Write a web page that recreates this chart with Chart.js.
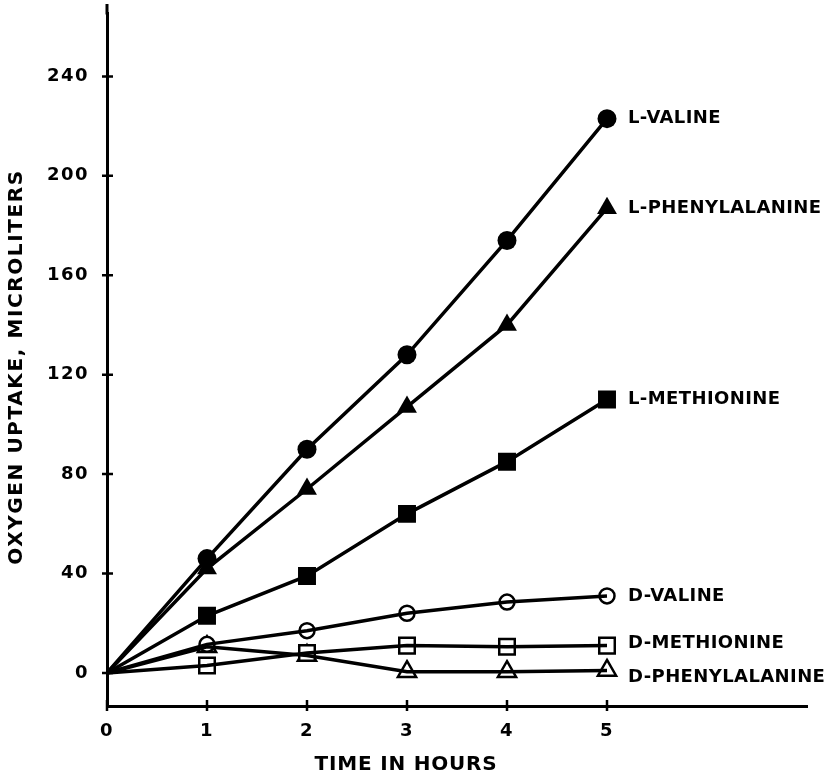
<!DOCTYPE html>
<html>
<head>
<meta charset="utf-8">
<script src="https://cdn.jsdelivr.net/npm/chart.js@4.4.1/dist/chart.umd.min.js"></script>
<style>
  html, body { margin: 0; background: #fff; }
  #wrap { width: 837px; height: 780px; }
</style>
</head>
<body>
<div id="wrap"><canvas id="chart"></canvas></div>
<script>
// Data: oxygen uptake (microliters) against time (hours)
const hours = [0, 1, 2, 3, 4, 5];
const xTicks = [0, 1, 2, 3, 4, 5];
const yTicks = [0, 40, 80, 120, 160, 200, 240];
const seriesNames = ['L-VALINE', 'L-PHENYLALANINE', 'L-METHIONINE', 'D-VALINE', 'D-METHIONINE', 'D-PHENYLALANINE'];
const lValine = [0, 46, 90, 128, 174, 223];
const lPhenylalanine = [0, 42, 74, 107, 140, 187];
const lMethionine = [0, 23, 39, 64, 85, 110];
const dValine = [0, 11.5, 17, 24, 28.5, 31];
const dMethionine = [0, 3, 8, 11, 10.5, 11];
const dPhenylalanine = [0, 10.5, 7, 0.5, 0.5, 1];
const seriesValues = [lValine, lPhenylalanine, lMethionine, dValine, dMethionine, dPhenylalanine];

// marker look per series (same order as seriesNames)
const markers = [
  { style: 'circle',   filled: true,  r: 9.5 },
  { style: 'triangle', filled: true,  r: 11.5 },
  { style: 'rect',     filled: true,  r: 12.7 },
  { style: 'circle',   filled: false, r: 7.5 },
  { style: 'rect',     filled: false, r: 11 },
  { style: 'triangle', filled: false, r: 10.5 }
];
// small vertical nudges for the end labels, in px
const labelNudge = { 'D-PHENYLALANINE': 7, 'D-METHIONINE': -2 };
const AXIS_TOP = 4;   // the drawn y axis runs up to here

const INK = '#000';
const FONT = '"DejaVu Sans", sans-serif';
const points = vals => hours.map((h, i) => ({ x: h, y: vals[i] }));
const skipFirst = r => hours.map((h, i) => i === 0 ? 0 : r);

const datasets = [];
seriesValues.forEach((vals, i) => {
  datasets.push({
    label: seriesNames[i], data: points(vals),
    borderColor: INK, borderWidth: 3.5, pointRadius: 0, tension: 0, fill: false
  });
});
seriesValues.forEach((vals, i) => {
  const m = markers[i];
  datasets.push({
    label: seriesNames[i] + ' marker', data: points(vals), showLine: false,
    pointStyle: m.style, pointRadius: skipFirst(m.r),
    pointBackgroundColor: m.filled ? INK : '#fff',
    pointBorderColor: INK, pointBorderWidth: m.filled ? 0 : 2.5
  });
});

// tick marks that cross the axes, like the hand-drawn original
const crossTicks = {
  id: 'crossTicks',
  beforeDraw(chart) { chart.ctx.letterSpacing = '1.5px'; },
  afterDraw(chart) {
    const { ctx, chartArea: a, scales: { x, y } } = chart;
    ctx.letterSpacing = '0px';
    ctx.save();
    ctx.strokeStyle = INK;
    ctx.lineWidth = 3;
    ctx.beginPath();
    ctx.moveTo(a.left, a.top + 1); ctx.lineTo(a.left, AXIS_TOP);
    ctx.stroke();
    ctx.lineWidth = 2.5;
    ctx.beginPath();
    yTicks.forEach(v => {
      const py = y.getPixelForValue(v);
      ctx.moveTo(a.left - 5, py); ctx.lineTo(a.left + 6, py);
    });
    xTicks.forEach(v => {
      const px = x.getPixelForValue(v);
      ctx.moveTo(px, a.bottom - 6); ctx.lineTo(px, a.bottom + 5);
    });
    ctx.stroke();
    ctx.restore();
  }
};

const endLabels = {
  id: 'endLabels',
  afterDraw(chart) {
    const { ctx, scales: { x, y } } = chart;
    const last = hours.length - 1;
    ctx.save();
    ctx.letterSpacing = '0.4px';
    ctx.font = 'bold 18px ' + FONT;
    ctx.fillStyle = INK;
    ctx.textBaseline = 'middle';
    ctx.textAlign = 'left';
    seriesNames.forEach((name, i) => {
      const px = x.getPixelForValue(hours[last]) + 21;
      const py = y.getPixelForValue(seriesValues[i][last]) + (labelNudge[name] || 0);
      ctx.fillText(name, px, py);
    });
    ctx.restore();
  }
};

const axisTitles = {
  id: 'axisTitles',
  afterDraw(chart) {
    const { ctx } = chart;
    ctx.save();
    ctx.fillStyle = INK;
    ctx.font = 'bold 20px ' + FONT;
    ctx.textAlign = 'center';
    ctx.textBaseline = 'middle';
    ctx.letterSpacing = '0.8px';
    ctx.fillText('TIME IN HOURS', 406, 765);
    ctx.letterSpacing = '1.6px';
    ctx.translate(17, 367);
    ctx.rotate(-Math.PI / 2);
    ctx.fillText('OXYGEN UPTAKE, MICROLITERS', 0, 0);
    ctx.restore();
  }
};

new Chart(document.getElementById('chart'), {
  type: 'line',
  data: { datasets },
  options: {
    responsive: true,
    maintainAspectRatio: false,
    animation: false,
    events: [],
    layout: { padding: { top: 4, right: 30, left: 0, bottom: 0 } },
    plugins: { legend: { display: false }, tooltip: { enabled: false } },
    scales: {
      x: {
        type: 'linear', min: 0, max: 7,
        afterBuildTicks: s => { s.ticks = xTicks.map(v => ({ value: v })); },
        afterFit: s => { s.height = 74; s.paddingLeft = 0; s.paddingRight = 0; },
        grid: { display: false, drawTicks: false },
        border: { display: true, color: INK, width: 3 },
        ticks: { color: INK, padding: 15, font: { family: FONT, size: 18, weight: 'bold' } }
      },
      y: {
        type: 'linear', min: -13.3, max: 265.3,
        afterBuildTicks: s => { s.ticks = yTicks.map(v => ({ value: v })); },
        afterFit: s => { s.width = 107; s.paddingTop = 0; s.paddingBottom = 0; },
        grid: { display: false, drawTicks: false },
        border: { display: true, color: INK, width: 3 },
        ticks: { color: INK, padding: 18, font: { family: FONT, size: 18, weight: 'bold' } }
      }
    }
  },
  plugins: [crossTicks, endLabels, axisTitles]
});
</script>
</body>
</html>
